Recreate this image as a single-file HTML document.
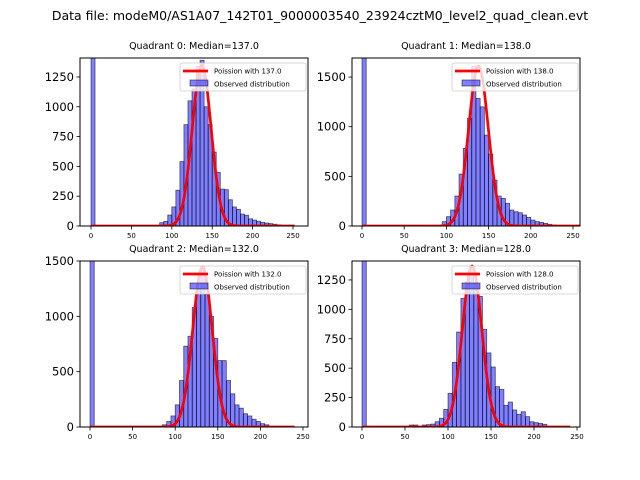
<!DOCTYPE html>
<html><head><meta charset="utf-8"><style>
body{margin:0;background:#fff}
svg{display:block;font-family:"DejaVu Sans","Liberation Sans",sans-serif}
</style></head><body>
<svg id="fig" width="640" height="480" viewBox="0 0 640 480" xmlns="http://www.w3.org/2000/svg">
<text x="320" y="20" text-anchor="middle" font-size="12.5">Data file: modeM0/AS1A07_142T01_9000003540_23924cztM0_level2_quad_clean.evt</text>
</svg>
<script>
// data
const binStarts0 = [0,85,90,95,100,105,110,115,120,125,130,135,140,145,150,155,160,165,170,175,180,185,190,195,200,205,210,215,220,225,230];
const counts0 = [2000,28,39,92,160,300,540,850,1050,1150,1340,1390,1000,850,620,450,310,305,220,160,140,100,90,60,50,40,30,25,20,15,10];
const binStarts1 = [0,95,100,105,110,115,120,125,130,135,140,145,150,155,160,165,170,175,180,185,190,195,200,205,210,215,220,225];
const counts1 = [2000,44,94,161,302,523,782,1084,1610,1285,1200,916,725,463,302,278,228,161,144,134,111,87,60,44,37,27,17,10];
const binStarts2 = [0,85,90,95,100,105,110,115,120,125,130,135,140,145,150,155,160,165,170,175,180,185,190,195,200,205];
const counts2 = [2000,20,50,100,200,420,730,820,1080,1250,1450,1200,1000,800,600,600,420,300,200,170,120,100,70,50,30,20];
const binStarts3 = [0,55,60,70,75,80,85,90,95,100,105,110,115,120,125,130,135,140,145,150,155,160,165,170,175,180,185,190,195,200,205,210];
const counts3 = [2000,17,17,17,20,25,45,74,150,286,550,807,1093,1235,1360,1218,1110,830,630,510,343,320,184,212,145,108,130,88,45,37,31,23];
const medians = [137.0,138.0,132.0,128.0];
const poissonPeaks = [1350,1610,1445,1368];
const curveEnd = [252,258,240,242];
const yTicks0 = [0,250,500,750,1000,1250];
const yTicks1 = [0,500,1000,1500];
const yTicks2 = [0,500,1000,1500];
const yTicks3 = [0,250,500,750,1000,1250];
const xTicks = [0,50,100,150,200,250];
const yMax = [1409,1692,1500,1411];

const panels=[
 {l:80,r:308,t:58,b:226,bs:binStarts0,c:counts0,yt:yTicks0},
 {l:352,r:580,t:58,b:226,bs:binStarts1,c:counts1,yt:yTicks1},
 {l:80,r:308,t:261,b:427,bs:binStarts2,c:counts2,yt:yTicks2},
 {l:352,r:580,t:261,b:427,bs:binStarts3,c:counts3,yt:yTicks3}];
const xCal=[[91,293],[362,573],[90,303],[362,577]];
const NS='http://www.w3.org/2000/svg';
const svg=document.getElementById('fig');
function mk(tag,attrs,parent){const e=document.createElementNS(NS,tag);for(const k in attrs)e.setAttribute(k,attrs[k]);(parent||svg).appendChild(e);return e;}
panels.forEach((p,i)=>{
 const g=mk('g',{});
 
 
 const x=v=>xCal[i][0]+(v/250)*(xCal[i][1]-xCal[i][0]);
 const y=v=>p.b-(v/yMax[i])*(p.b-p.t);
 const cid='clip'+i;
 const cp=mk('clipPath',{id:cid},g);mk('rect',{x:p.l,y:p.t,width:p.r-p.l,height:p.b-p.t},cp);
 const bars=mk('g',{'clip-path':'url(#'+cid+')'},g);
 p.bs.forEach((s,j)=>{
  const r=mk('rect',{x:x(s),y:y(p.c[j]),width:x(s+5)-x(s),height:y(0)-y(p.c[j]),fill:'rgba(0,0,255,0.5)',stroke:'rgba(0,0,0,0.6)','stroke-width':0.8},bars);
  
  
 });
 const lam=medians[i];let d='';
 for(let k=0;k<=curveEnd[i];k++){const v=poissonPeaks[i]*Math.exp(-(k-lam)*(k-lam)/(2*lam));d+=(k?'L':'M')+x(k).toFixed(2)+','+y(v).toFixed(2);}
 const pl=mk('path',{d:d,fill:'none',stroke:'red','stroke-width':2.7},bars);
 
 
 const fr=mk('rect',{x:p.l,y:p.t,width:p.r-p.l,height:p.b-p.t,fill:'none',stroke:'#000','stroke-width':1},g);
 
 
 xTicks.forEach(t=>{const xx=x(t);mk('line',{x1:xx,x2:xx,y1:p.b,y2:p.b+3.5,stroke:'#000','stroke-width':0.8},g);
  const tx=mk('text',{x:xx,y:p.b+12,'text-anchor':'middle','font-size':7},g);tx.textContent=t;
  
  });
 p.yt.forEach(t=>{const yy=y(t);mk('line',{x1:p.l,x2:p.l-3.5,y1:yy,y2:yy,stroke:'#000','stroke-width':0.8},g);
  const tx=mk('text',{x:p.l-6,y:yy+4,'text-anchor':'end','font-size':11.5},g);tx.textContent=t;
  
  });
 const ti=mk('text',{x:(p.l+p.r)/2,y:p.t-9,'text-anchor':'middle','font-size':9.5},g);
 ti.textContent='Quadrant '+i+': Median='+medians[i].toFixed(1);
 
 
 const lg=mk('g',{},g);
 
 
 const lx=p.r-128,ly=p.t+5;
 mk('rect',{x:lx,y:ly,width:126,height:28,rx:2,fill:'rgba(255,255,255,0.8)',stroke:'#ccc','stroke-width':0.8},lg);
 mk('line',{x1:lx+3,x2:lx+28,y1:ly+8,y2:ly+8,stroke:'red','stroke-width':2.7},lg);
 const t1=mk('text',{x:lx+34,y:ly+10.5,'font-size':7},lg);t1.textContent='Poission with '+medians[i].toFixed(1);
 
 
 mk('rect',{x:lx+10,y:ly+17,width:18,height:6,fill:'rgba(0,0,255,0.5)',stroke:'rgba(0,0,0,0.6)','stroke-width':0.8},lg);
 const t2=mk('text',{x:lx+34,y:ly+23.5,'font-size':7},lg);t2.textContent='Observed distribution';
 
 
});
</script>
</body></html>
